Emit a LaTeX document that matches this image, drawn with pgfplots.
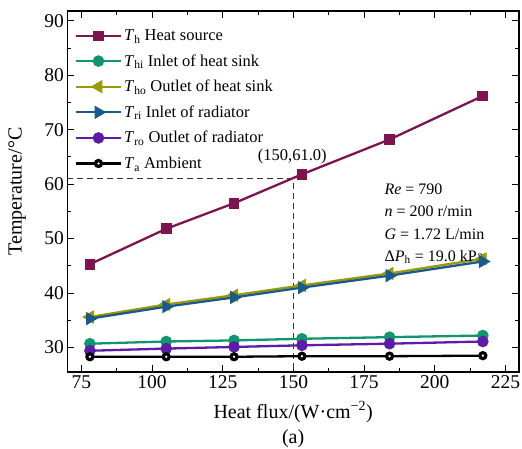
\documentclass[border=0pt]{standalone}
\usepackage{pgfplots}
\pgfplotsset{compat=1.18}
\usepackage{fontspec}
\setmainfont{Liberation Serif}
\definecolor{cTh}{RGB}{125,20,80}
\definecolor{cThi}{RGB}{16,150,110}
\definecolor{cTho}{RGB}{155,152,10}
\definecolor{cTri}{RGB}{24,90,140}
\definecolor{cTro}{RGB}{92,28,168}
\begin{document}
\begin{tikzpicture}
\begin{axis}[
  scale only axis, width=451.7pt, height=361pt,
  xmin=70, xmax=229.8, ymin=25.5, ymax=91.8,
  xtick={75,100,...,225}, ytick={30,40,...,90},
  minor x tick num=1, minor y tick num=1,
  major tick length=7pt, minor tick length=4pt,
  tick style={black, line width=1pt},
  axis line style={line width=1.2pt},
  tick label style={font=\fontsize{19.5}{19.5}\selectfont},
  /pgf/number format/assume math mode=true,
  xlabel={Heat flux/(W·cm\textsuperscript{−2})\\(a)},
  ylabel={Temperature/°C},
  label style={font=\fontsize{20}{25}\selectfont},
  xlabel style={at={(axis description cs:0.5,0)}, anchor=north, yshift=-26pt, align=center},
  ylabel style={at={(axis description cs:-0.111,0.5)}, anchor=center},
  legend style={at={(axis description cs:0.014,0.957)}, anchor=north west, draw=none, fill=none,
    font=\fontsize{16.5}{16.5}\selectfont, row sep=8.5pt, inner sep=1pt},
  legend cell align=left,
  legend image code/.code={\draw[mark repeat=2,mark phase=2] plot coordinates {(0pt,0pt)(22.5pt,0pt)(45pt,0pt)};},
  every axis plot/.append style={line width=2.3pt},
]
\coordinate (SW) at (rel axis cs:0,0);
\coordinate (NE) at (rel axis cs:1,1);
\addplot[black!80, line width=1.5pt, dash pattern=on 6pt off 4pt, forget plot] coordinates {(70,61) (150,61) (150,25.5)};
\addplot[cTh, mark=square*, mark size=4.2pt, mark options={solid}] coordinates {
(78,45.3) (105,51.8) (129,56.5) (153,61.8) (184,68.2) (217,76.2)};
\addlegendentry{\textit{T}\textsubscript{h} Heat source}
\addplot[cThi, mark=*, mark size=4.6pt] coordinates {
(78,30.7) (105,31.1) (129,31.3) (153,31.6) (184,31.9) (217,32.2)};
\addlegendentry{\textit{T}\textsubscript{hi} Inlet of heat sink}
\addplot[cTho, mark=triangle*, mark size=5.5pt, mark options={rotate=90}] coordinates {
(78,35.6) (105,37.9) (129,39.6) (153,41.4) (184,43.6) (217,46.3)};
\addlegendentry{\textit{T}\textsubscript{ho} Outlet of heat sink}
\addplot[cTri, mark=triangle*, mark size=5.5pt, mark options={rotate=-90}] coordinates {
(78,35.3) (105,37.5) (129,39.2) (153,41.0) (184,43.2) (217,45.8)};
\addlegendentry{\textit{T}\textsubscript{ri} Inlet of radiator}
\addplot[cTro, mark=*, mark size=4.6pt] coordinates {
(78,29.4) (105,29.8) (129,30.1) (153,30.4) (184,30.7) (217,31.1)};
\addlegendentry{\textit{T}\textsubscript{ro} Outlet of radiator}
\addplot[black, mark=*, mark size=3pt, mark options={fill=white, draw=black, line width=3.2pt}] coordinates {
(78,28.3) (105,28.3) (129,28.3) (153,28.4) (184,28.4) (217,28.5)};
\addlegendentry{\textit{T}\textsubscript{a} Ambient}
\node[font=\fontsize{16.5}{16.5}\selectfont] at (axis cs:149.6,65.1) {(150,61.0)};
\node[font=\fontsize{16}{16}\selectfont, anchor=west] at (axis cs:181.0,59.1) {\textit{Re} = 790};
\node[font=\fontsize{16}{16}\selectfont, anchor=west] at (axis cs:181.0,55.0) {\textit{n} = 200 r/min};
\node[font=\fontsize{16}{16}\selectfont, anchor=west] at (axis cs:181.0,50.8) {\textit{G} = 1.72 L/min};
\node[font=\fontsize{16}{16}\selectfont, anchor=west] at (axis cs:181.0,46.6) {Δ\textit{P}\textsubscript{h} = 19.0 kPa};
\end{axis}
\pgfresetboundingbox
\path[use as bounding box] ([xshift=-67.3pt,yshift=-77pt]SW) rectangle ([xshift=3pt,yshift=11pt]NE);
\end{tikzpicture}
\end{document}
